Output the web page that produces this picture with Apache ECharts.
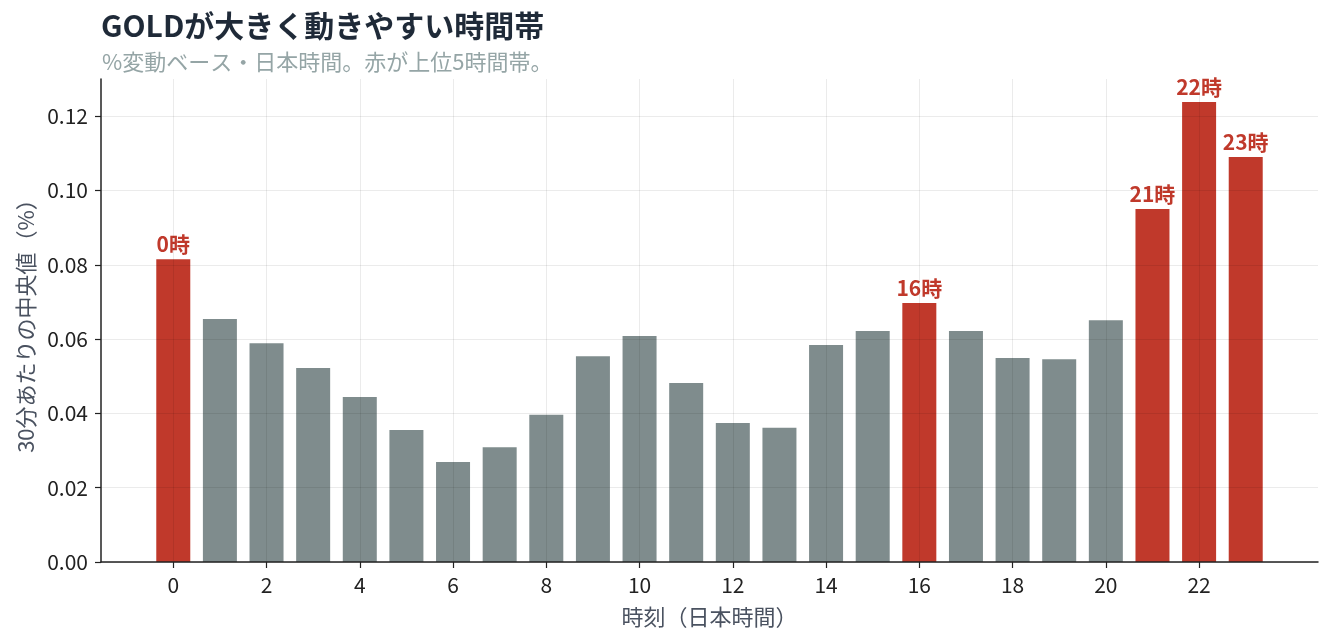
<!DOCTYPE html>
<html>
<head>
<meta http-equiv="Content-Type" content="text/html; charset=utf-8" />
<script type="text/javascript" src="https://cdn.jsdelivr.net/npm/echarts@6/dist/echarts.min.js"></script>
<style>
  html, body { margin: 0; padding: 0; background: #fff; }
  #chartDom { width: 1333px; height: 644px; }
</style>
</head>
<body>
<div id="chartDom"></div>
<script type="text/javascript">
    // hours (JST) and median % move per 30 min
    var hours = [0, 1, 2, 3, 4, 5, 6, 7, 8, 9, 10, 11, 12, 13, 14, 15, 16, 17, 18, 19, 20, 21, 22, 23];
    var medianMove = [0.0815, 0.0654, 0.0589, 0.0522, 0.0444, 0.0355, 0.0269, 0.0309, 0.0396, 0.0554,
                      0.0608, 0.0482, 0.0374, 0.0361, 0.0584, 0.0622, 0.0697, 0.0622, 0.0549, 0.0546,
                      0.0651, 0.0950, 0.1238, 0.1090];
    var xTicks = [0, 2, 4, 6, 8, 10, 12, 14, 16, 18, 20, 22];
    var yTicks = [0, 0.02, 0.04, 0.06, 0.08, 0.10, 0.12];

    var RED = '#c0392b', GRAY = '#7f8c8d';
    var FONT = '"Noto Sans CJK JP", "Noto Sans", sans-serif';

    // top 5 hours are red
    var top5 = hours.slice().sort(function (a, b) { return medianMove[b] - medianMove[a]; }).slice(0, 5);

    var barData = hours.map(function (h, i) {
        var hot = top5.indexOf(h) >= 0;
        return {
            value: [h, medianMove[i]],
            itemStyle: { color: hot ? RED : GRAY },
            label: { show: hot }
        };
    });

    var myChart = echarts.init(document.getElementById("chartDom"));
    var option = {
        animation: false,
        textStyle: { fontFamily: FONT },
        title: [
            { text: 'GOLDが大きく動きやすい時間帯', left: 101, top: 11, padding: 0,
              textStyle: { fontSize: 30, fontWeight: 'bold', color: '#1f2a38', fontFamily: FONT } },
            { text: '%変動ベース・日本時間。赤が上位5時間帯。', left: 102, top: 51, padding: 0,
              textStyle: { fontSize: 22, fontWeight: 'normal', color: '#95a5a6', fontFamily: FONT } }
        ],
        grid: { left: 101, right: 15, top: 79, bottom: 82, containLabel: false },
        xAxis: {
            type: 'value', min: -1.55, max: 24.55, z: 3,
            name: '時刻（日本時間）', nameLocation: 'middle', nameGap: 44,
            nameTextStyle: { fontSize: 22, color: '#4a5260', fontFamily: FONT },
            axisLine: { onZero: false, lineStyle: { color: '#222', width: 1.5 } },
            axisTick: { show: true, length: 6, customValues: xTicks, lineStyle: { color: '#222', width: 1.2 } },
            axisLabel: { customValues: xTicks, margin: 13, fontSize: 21, color: '#222', fontFamily: FONT },
            splitLine: { show: true, lineStyle: { color: 'rgba(0,0,0,0.08)', width: 1 } }
        },
        yAxis: {
            type: 'value', min: 0, max: 0.13, z: 3,
            name: '30分あたりの中央値（%）', nameLocation: 'middle', nameGap: 60,
            nameTextStyle: { fontSize: 22, color: '#4a5260', fontFamily: FONT },
            axisLine: { show: true, onZero: false, lineStyle: { color: '#222', width: 1.5 } },
            axisTick: { show: true, length: 6, customValues: yTicks, lineStyle: { color: '#222', width: 1.2 } },
            axisLabel: { customValues: yTicks, margin: 13, fontSize: 21, color: '#222', fontFamily: FONT,
                         formatter: function (v) { return v.toFixed(2); } },
            splitLine: { show: true, lineStyle: { color: 'rgba(0,0,0,0.08)', width: 1 } }
        },
        series: [{
            type: 'bar',
            barWidth: 34,
            data: barData,
            label: {
                position: 'top', distance: 5,
                formatter: function (p) { return p.value[0] + '時'; },
                color: RED, fontSize: 21, fontWeight: 'bold', fontFamily: FONT
            }
        }]
    };
    myChart.setOption(option);
    window.onresize = myChart.resize;
</script>
</body>
</html>
